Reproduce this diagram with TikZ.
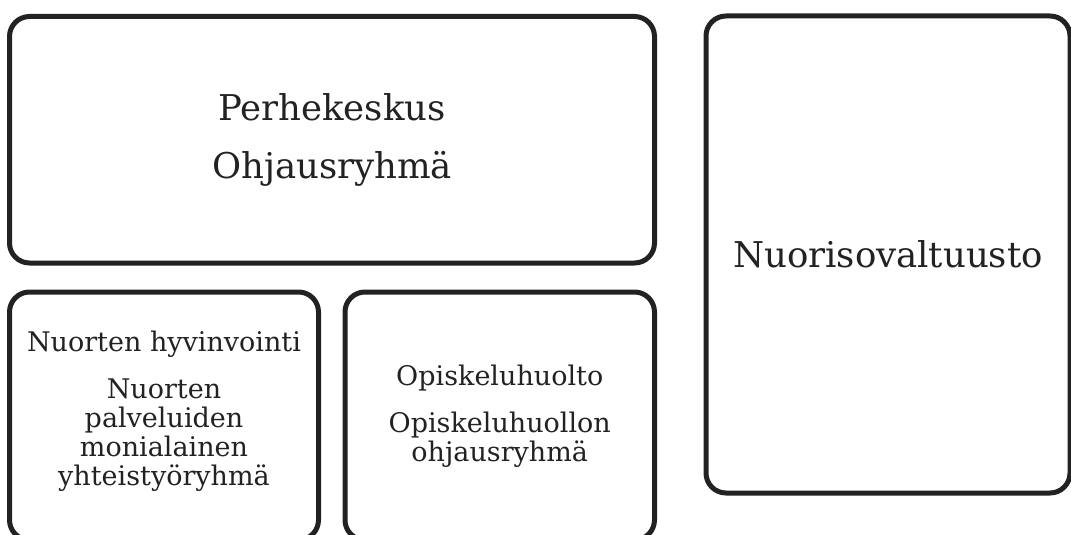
\documentclass[tikz,border=0pt]{standalone}
\usepackage{fontspec}
\setmainfont{DejaVu Serif}
\definecolor{ink}{HTML}{222222}
\begin{document}
\begin{tikzpicture}[x=1pt,y=-1pt,
  box/.style={draw=ink, line width=5pt, rounded corners=20pt, inner sep=0pt, align=center, text=ink},
  bigtext/.style={font=\fontsize{35.5}{58}\selectfont},
  smalltext/.style={font=\fontsize{27}{29}\selectfont}]
\useasboundingbox (0,0) rectangle (1071,535);
\clip (0,0) rectangle (1071,535);
\node[box, bigtext, minimum width=645pt, minimum height=246.5pt] (top) at (332,139.75) {Perhekeskus\\Ohjausryhmä};
\node[box, bigtext, minimum width=364pt, minimum height=477pt] (nv) at (888,254.5) {Nuorisovaltuusto};
\node[box, smalltext, minimum width=309pt, minimum height=248pt] (left) at (164,416) {Nuorten hyvinvointi\\[18pt]Nuorten\\palveluiden\\monialainen\\yhteistyöryhmä\rule[-15pt]{0pt}{0pt}};
\node[box, smalltext, minimum width=309.5pt, minimum height=248pt] (mid) at (499.75,416) {Opiskeluhuolto\\[18pt]Opiskeluhuollon\\ohjausryhmä};
\end{tikzpicture}
\end{document}
